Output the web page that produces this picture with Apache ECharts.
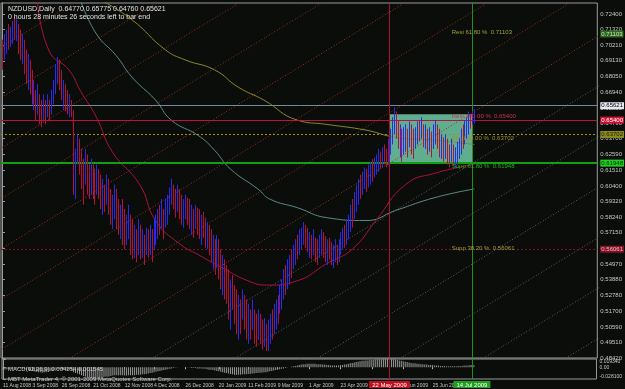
<!DOCTYPE html>
<html>
<head>
<meta charset="utf-8">
<script src="https://cdn.jsdelivr.net/npm/echarts@6/dist/echarts.min.js"></script>
<style>
  html, body { margin: 0; padding: 0; background: #0a0d0a; }
  #chart { width: 625px; height: 389px; }
</style>
</head>
<body>
<div id="chart"></div>
<script>
// NZDUSD daily, one row per bar: [open, high, low, close]
var bars = [
  [.700,.706,.685,.690],[.694,.710,.692,.706],[.705,.713,.696,.710],[.712,.717,.699,.702],[.703,.715,.701,.713],
  [.710,.719,.703,.717],[.718,.722,.706,.709],[.708,.720,.705,.716],[.714,.717,.696,.699],[.700,.713,.692,.695],
  [.693,.710,.689,.706],[.704,.706,.682,.686],[.688,.699,.675,.679],[.677,.696,.671,.690],[.689,.692,.668,.670],
  [.672,.685,.661,.664],[.662,.678,.657,.675],[.673,.671,.650,.653],[.655,.675,.654,.668],[.666,.668,.647,.650],
  [.652,.664,.645,.647],[.648,.668,.650,.662],[.661,.664,.647,.651],[.652,.668,.652,.665],[.663,.664,.649,.653],
  [.655,.671,.654,.668],[.667,.678,.661,.676],[.674,.689,.668,.686],[.684,.694,.675,.691],[.690,.692,.671,.675],
  [.677,.685,.664,.668],[.666,.678,.657,.675],[.673,.675,.656,.659],[.661,.671,.654,.656],[.655,.668,.652,.665],
  [.663,.664,.652,.654],[.655,.657,.598,.602],[.600,.630,.595,.624],[.622,.640,.619,.636],[.634,.637,.612,.615],
  [.617,.630,.602,.605],[.606,.623,.591,.594],[.608,.630,.605,.626],[.624,.626,.598,.600],[.603,.619,.595,.598],
  [.600,.623,.598,.619],[.617,.619,.595,.597],[.599,.616,.591,.593],[.600,.619,.598,.616],[.614,.616,.595,.598],
  [.600,.612,.588,.590],[.588,.609,.584,.605],[.603,.605,.586,.589],[.592,.612,.591,.609],[.607,.609,.584,.586],
  [.588,.602,.577,.580],[.578,.598,.574,.595],[.594,.605,.581,.602],[.600,.602,.574,.577],[.578,.595,.570,.572],
  [.571,.591,.567,.588],[.589,.595,.563,.566],[.568,.588,.560,.562],[.564,.584,.563,.581],[.580,.591,.567,.587],
  [.583,.584,.556,.559],[.561,.581,.553,.555],[.556,.577,.554,.574],[.572,.574,.551,.553],[.558,.581,.556,.578],
  [.576,.577,.553,.556],[.557,.574,.554,.571],[.569,.570,.549,.551],[.558,.575,.556,.573],[.572,.574,.554,.557],
  [.558,.577,.556,.575],[.573,.574,.551,.553],[.562,.581,.560,.579],[.575,.584,.563,.582],[.570,.588,.567,.586],
  [.587,.591,.570,.573],[.575,.595,.574,.592],[.587,.588,.567,.569],[.577,.595,.575,.593],[.585,.598,.577,.596],
  [.590,.603,.584,.601],[.598,.609,.591,.607],[.604,.605,.588,.590],[.592,.602,.582,.585],[.587,.605,.586,.603],
  [.601,.602,.581,.583],[.585,.598,.577,.580],[.578,.595,.575,.592],[.588,.598,.581,.596],[.595,.596,.577,.580],
  [.582,.595,.574,.577],[.575,.591,.570,.589],[.587,.588,.568,.570],[.576,.591,.574,.589],[.588,.589,.570,.572],
  [.574,.588,.567,.569],[.566,.584,.563,.581],[.583,.586,.568,.571],[.573,.582,.561,.564],[.562,.579,.560,.576],
  [.575,.577,.556,.558],[.560,.574,.551,.553],[.550,.570,.546,.566],[.565,.567,.542,.545],[.548,.570,.547,.567],
  [.566,.567,.539,.541],[.543,.560,.532,.535],[.534,.556,.528,.552],[.551,.553,.525,.528],[.530,.549,.522,.524],
  [.526,.546,.511,.514],[.512,.539,.504,.535],[.537,.542,.518,.520],[.522,.535,.508,.511],[.513,.532,.501,.504],
  [.503,.528,.497,.525],[.523,.525,.501,.505],[.512,.532,.511,.530],[.527,.528,.504,.507],[.509,.525,.497,.500],
  [.498,.522,.494,.518],[.517,.518,.497,.499],[.505,.525,.504,.522],[.516,.518,.494,.497],[.499,.515,.492,.494],
  [.499,.518,.497,.515],[.513,.515,.494,.497],[.499,.511,.490,.492],[.494,.512,.492,.509],[.507,.508,.489,.491],
  [.492,.511,.489,.508],[.505,.515,.494,.512],[.513,.518,.497,.500],[.502,.522,.501,.519],[.515,.525,.504,.523],
  [.524,.528,.508,.511],[.517,.535,.515,.533],[.530,.539,.518,.537],[.528,.546,.525,.544],[.545,.549,.528,.531],
  [.533,.553,.532,.551],[.545,.556,.535,.554],[.555,.560,.540,.543],[.547,.563,.546,.561],[.555,.567,.549,.565],
  [.566,.570,.553,.555],[.558,.574,.556,.572],[.565,.575,.560,.573],[.567,.579,.563,.577],[.576,.577,.561,.563],
  [.566,.575,.558,.560],[.559,.572,.554,.570],[.569,.570,.553,.555],[.557,.574,.556,.572],[.567,.568,.551,.553],
  [.555,.567,.549,.551],[.556,.570,.554,.568],[.562,.574,.556,.572],[.571,.572,.554,.557],[.558,.569,.551,.553],
  [.552,.567,.549,.564],[.565,.568,.553,.556],[.557,.565,.549,.551],[.550,.563,.547,.561],[.556,.567,.551,.565],
  [.562,.563,.549,.551],[.552,.567,.551,.564],[.560,.572,.556,.570],[.565,.575,.560,.573],[.575,.577,.561,.563],
  [.565,.581,.563,.579],[.572,.584,.567,.582],[.578,.591,.572,.589],[.592,.595,.575,.578],[.583,.600,.581,.598],
  [.594,.605,.586,.603],[.596,.609,.591,.607],[.609,.612,.595,.598],[.599,.614,.598,.612],[.606,.617,.602,.615],
  [.615,.616,.600,.603],[.604,.619,.603,.617],[.610,.621,.605,.619],[.620,.623,.607,.609],[.611,.624,.610,.622],
  [.616,.626,.612,.624],[.619,.630,.614,.627],[.627,.628,.616,.618],[.619,.631,.617,.629],[.631,.633,.619,.621],
  [.622,.630,.617,.619],[.620,.637,.619,.634],[.632,.644,.626,.641],[.636,.652,.633,.649],[.647,.659,.640,.656],
  [.655,.656,.637,.640],[.642,.650,.630,.633],[.627,.647,.624,.643],[.642,.644,.621,.624],[.628,.645,.626,.641],
  [.635,.647,.628,.645],[.643,.644,.624,.627],[.632,.649,.631,.646],[.645,.647,.626,.629],[.632,.644,.623,.625],
  [.631,.645,.630,.642],[.638,.649,.633,.646],[.648,.650,.635,.637],[.638,.652,.637,.650],[.646,.647,.631,.633],
  [.632,.647,.630,.644],[.642,.644,.626,.628],[.629,.645,.628,.643],[.641,.642,.624,.626],[.631,.647,.630,.645],
  [.640,.650,.633,.648],[.646,.647,.630,.632],[.633,.644,.624,.627],[.625,.640,.623,.637],[.636,.638,.621,.623],
  [.624,.640,.623,.638],[.635,.637,.619,.621],[.624,.633,.617,.619],[.622,.637,.621,.634],[.632,.633,.618,.620],
  [.619,.631,.617,.628],[.625,.635,.619,.633],[.627,.638,.623,.636],[.630,.644,.626,.642],[.644,.647,.630,.633],
  [.634,.650,.633,.648],[.642,.652,.637,.650],[.645,.656,.640,.654],[.652,.654,.644,.646],[.648,.656,.647,.655],
  [.6477,.65775,.6476,.65621]
];

// MACD(12,26,9) main line, one value per bar
var macd = [
  -.006,-.006,-.005,-.005,-.004,-.004,-.003,-.003,-.003,-.003,
  -.004,-.005,-.006,-.007,-.008,-.009,-.010,-.011,-.012,-.012,
  -.013,-.012,-.012,-.011,-.010,-.009,-.008,-.006,-.005,-.005,
  -.005,-.005,-.006,-.006,-.006,-.007,-.012,-.014,-.015,-.017,
  -.019,-.021,-.022,-.024,-.025,-.026,-.027,-.028,-.027,-.026,
  -.025,-.024,-.023,-.022,-.022,-.021,-.020,-.019,-.019,-.019,
  -.019,-.019,-.020,-.020,-.019,-.019,-.019,-.019,-.018,-.018,
  -.018,-.017,-.017,-.016,-.015,-.014,-.013,-.012,-.011,-.010,
  -.009,-.008,-.007,-.006,-.005,-.004,-.003,-.002,-.001,-.001,
  0,0,0,-.001,-.001,-.001,-.002,-.002,-.002,-.003,
  -.003,-.003,-.004,-.004,-.005,-.006,-.006,-.007,-.008,-.009,
  -.010,-.011,-.012,-.013,-.014,-.015,-.016,-.017,-.018,-.018,
  -.018,-.018,-.017,-.017,-.017,-.016,-.016,-.015,-.015,-.014,
  -.014,-.013,-.013,-.012,-.012,-.011,-.010,-.009,-.008,-.007,
  -.006,-.005,-.004,-.003,-.002,-.001,0,.001,.002,.003,
  .004,.005,.006,.007,.007,.008,.008,.008,.008,.008,
  .007,.007,.007,.006,.006,.005,.005,.004,.004,.004,
  .004,.004,.005,.005,.006,.007,.008,.009,.010,.011,
  .012,.013,.014,.015,.015,.016,.016,.017,.017,.017,
  .018,.018,.018,.018,.019,.019,.019,.019,.019,.019,
  .018,.017,.016,.015,.014,.013,.012,.011,.010,.009,
  .009,.008,.008,.007,.007,.006,.006,.005,.005,.005,
  .004,.004,.004,.003,.003,.003,.002,.002,.002,.002,
  .002,.002,.003,.003,.003,.004,.004,.004,.005,.005,
  .004254
];

// moving averages, sampled points [bar, price]
var maRed = [[18,.7330],[24,.6980],[34,.6850],[40,.6700],[48,.6520],[56,.6280],[70,.6050],[78,.5800],[90,.5640],[100,.5560],[112,.5470],[125,.5380],[135,.5350],[150,.5380],[165,.5500],[178,.5600],[190,.5800],[205,.6050],[220,.6130],[240,.6190]];
var maTeal = [[40,.7330],[48,.7100],[58,.6950],[66,.6800],[78,.6640],[86,.6500],[100,.6390],[108,.6290],[116,.6160],[130,.6020],[136,.5950],[150,.5890],[165,.5820],[185,.5800],[200,.5870],[220,.5960],[240,.6020]];
var maOlive = [[51,.7330],[66,.7200],[83,.6990],[93,.6920],[108,.6850],[120,.6730],[133,.6640],[150,.6500],[165,.6470],[185,.6430],[200,.6380],[220,.6360],[240,.6330]];

// parallel trend lines [startBar, startPrice, endBar, endPrice]
var redRays = [[-261,.4828,39,.7337],[-219,.4828,81,.7337],[-177,.4828,123,.7337],[-135,.4828,165,.7337],[-93,.4828,207,.7337],[-51,.4828,249,.7337],[-9,.4828,291,.7337],[33,.4828,333,.7337]];
var greyRays = [[75,.4828,375,.7337],[117,.4828,417,.7337],[159,.4828,459,.7337],[201,.4828,501,.7337],[243,.4828,543,.7337],[285,.4828,585,.7337]];

// price levels
var bidPrice = 0.65621;
var boxHigh = 0.65400, boxMid = 0.63702, boxLow = 0.61948, fibUp = 0.71103, fibDown = 0.56061;
var boxStart = 197, boxEnd = 239;

var yTicks = [0.48420,0.49510,0.50590,0.51700,0.52780,0.53880,0.54970,0.56060,0.57150,0.58240,0.59320,0.60400,0.61510,0.62590,0.63700,0.64790,0.65850,0.66940,0.68050,0.69130,0.70210,0.71320,0.72400];
var macdTicks = [0.01934, 0, -0.0281];
var macdTickLabels = ['0.019340', '0.00', '-0.028100'];
var dateBars = [0, 15, 30, 46, 62, 77, 93, 110, 125, 140, 156, 172, 188, 204, 219];
var dateLabels = ['11 Aug 2008','3 Sep 2008','26 Sep 2008','21 Oct 2008','12 Nov 2008','4 Dec 2008','26 Dec 2008','20 Jan 2009','11 Feb 2009','9 Mar 2009','1 Apr 2009','23 Apr 2009','15 May 2009','8 Jun 2009','25 Jun 2009'];
var vLineLabels = ['22 May 2009', '14 Jul 2009'];
var fibTexts = ['Resi 61.80 %  0.71103', 'Resi 100.00 %  0.65400', 'Pivot 50.00 %  0.63702', 'Supp 61.80 %  0.61948', 'Supp 38.20 %  0.56061'];
var titleText = 'NZDUSD,Daily  0.64770 0.65775 0.64760 0.65621';
var timerText = '0 hours 28 minutes 26 seconds left to bar end';
var macdText = 'MACD(12,26,9) 0.004254 0.001545';
var copyText = 'MBT MetaTrader 4, \u00a9 2001-2009 MetaQuotes Software Corp.';

var barData = bars.map(function (b, i) { return [i, b[0], b[1], b[2], b[3]]; });
var macdData = macd.map(function (v, i) { return [i, v]; });

var upColor = '#2a2ae8', downColor = '#b8103c';
var font = 'Liberation Sans';

function renderBar(params, api) {
  var i = api.value(0);
  var h = api.coord([i, api.value(2)]);
  var l = api.coord([i, api.value(3)]);
  var up = api.value(4) >= api.value(1);
  var x = Math.round(h[0]) + 0.5;
  return {
    type: 'line',
    shape: { x1: x, y1: h[1], x2: x, y2: l[1] },
    style: { stroke: up ? upColor : downColor, lineWidth: 1 }
  };
}

function rayLine(r, color) {
  return {
    type: 'line', xAxisIndex: 0, yAxisIndex: 0, silent: true, symbol: 'none', z: 1,
    data: [[r[0], r[1]], [r[2], r[3]]],
    lineStyle: { color: color, width: 1, type: [1, 2] }
  };
}

// horizontal level with a coloured price tag on the right axis
function level(v, color, w, type, tagBg, tagColor) {
  return {
    yAxis: v,
    lineStyle: { color: color, width: w, type: type },
    label: {
      show: true, position: 'end', distance: 3, formatter: v.toFixed(5),
      backgroundColor: tagBg, color: tagColor, fontSize: 6, fontFamily: font, padding: [1, 1, 0, 1]
    }
  };
}

var chart = echarts.init(document.getElementById('chart'));

var series = [];
redRays.forEach(function (r) { series.push(rayLine(r, '#9a3418')); });
greyRays.forEach(function (r) { series.push(rayLine(r, '#5c605c')); });

series.push({
  type: 'line', name: 'MA olive', data: maOlive, smooth: true, symbol: 'none', z: 2,
  lineStyle: { color: '#8a8a2a', width: 1 },
  markArea: {
    silent: true,
    itemStyle: { color: '#60ae90', opacity: 1 },
    data: [[{ xAxis: boxStart, yAxis: boxHigh }, { xAxis: boxEnd, yAxis: boxLow }]]
  },
  markLine: {
    silent: true, symbol: 'none',
    data: [
      level(fibUp, 'rgba(0,0,0,0)', 1, 'solid', '#2a6a1a', '#d0e0c0'),
      level(bidPrice, '#778899', 1, 'solid', '#e8e8f0', '#000000'),
      level(boxHigh, '#c01040', 1, 'solid', '#d01030', '#ffffff'),
      level(boxMid, '#a09020', 1, [2, 2], '#8a8a20', '#202000'),
      level(boxLow, '#10a010', 2, 'solid', '#20d020', '#002000'),
      level(fibDown, '#7a1020', 1, [2, 2], '#8a1028', '#e0c0c0'),
      { xAxis: boxStart, lineStyle: { color: '#b01030', width: 1, type: 'solid' }, label: { show: false } },
      { xAxis: boxEnd, lineStyle: { color: '#209020', width: 1, type: 'solid' }, label: { show: false } }
    ]
  }
});
series.push({ type: 'line', name: 'MA teal', data: maTeal, smooth: true, symbol: 'none', z: 2, lineStyle: { color: '#5a8a8a', width: 1 } });
series.push({ type: 'line', name: 'MA red', data: maRed, smooth: true, symbol: 'none', z: 2, lineStyle: { color: '#b0103a', width: 1 } });

series.push({
  type: 'custom', name: 'NZDUSD', data: barData, renderItem: renderBar, z: 5,
  encode: { x: 0, y: [1, 2, 3, 4] }, clip: true
});

// fibonacci level captions, drawn above the bars
series.push({
  type: 'line', name: 'fib text', data: [[boxStart, boxHigh]], symbol: 'none', showSymbol: false, z: 10,
  lineStyle: { opacity: 0 },
  markPoint: {
    silent: true, symbol: 'circle', symbolSize: 0,
    label: { show: true, fontFamily: font, fontSize: 6, position: 'right', formatter: '{c}' },
    data: [
      { coord: [226, fibUp], value: fibTexts[0], label: { color: '#a0a040' } },
      { coord: [226, boxHigh - 0.0016], value: fibTexts[1], label: { color: '#d03050' } },
      { coord: [226, boxMid], value: fibTexts[2], label: { color: '#a09030' } },
      { coord: [226, boxLow - 0.0016], value: fibTexts[3], label: { color: '#20b020' } },
      { coord: [226, fibDown], value: fibTexts[4], label: { color: '#a0a040' } }
    ]
  }
});

series.push({
  type: 'bar', name: 'MACD', xAxisIndex: 1, yAxisIndex: 1, data: macdData, barWidth: 1,
  itemStyle: { color: '#9a9a9a' }, silent: true, z: 3,
  markLine: {
    silent: true, symbol: 'none',
    label: { show: true, position: 'start', distance: 2, fontSize: 6, fontFamily: font, padding: [1, 3, 0, 3] },
    data: [
      { xAxis: boxStart, lineStyle: { color: '#b01030', width: 1, type: 'solid' }, label: { formatter: vLineLabels[0], backgroundColor: '#c01020', color: '#ffffff' } },
      { xAxis: boxEnd, lineStyle: { color: '#209020', width: 1, type: 'solid' }, label: { formatter: vLineLabels[1], backgroundColor: '#20a020', color: '#ffffff' } }
    ]
  }
});

var xRange = { min: -0.5, max: 302.5 };

chart.setOption({
  backgroundColor: '#0a0d0a',
  animation: false,
  title: [
    { text: titleText, left: 3, top: 1, textStyle: { color: '#e0e0e0', fontSize: 7, fontWeight: 'normal', fontFamily: font } },
    { text: timerText, left: 3, top: 9, textStyle: { color: '#e0e0e0', fontSize: 7, fontWeight: 'normal', fontFamily: font } },
    { text: macdText, left: 3, top: 361, textStyle: { color: '#c8c8c8', fontSize: 6, fontWeight: 'normal', fontFamily: font } },
    { text: copyText, left: 3, top: 371, textStyle: { color: '#c8c8c8', fontSize: 6, fontWeight: 'normal', fontFamily: font } }
  ],
  grid: [
    { left: 1, right: 19, top: 3, height: 355, show: true, borderColor: '#9a9a9a', borderWidth: 1, backgroundColor: 'transparent' },
    { left: 1, right: 19, top: 359, height: 20, show: true, borderColor: '#9a9a9a', borderWidth: 1, backgroundColor: 'transparent' }
  ],
  xAxis: [
    { type: 'value', gridIndex: 0, min: xRange.min, max: xRange.max, axisLine: { show: false }, axisTick: { show: false }, axisLabel: { show: false }, splitLine: { show: false } },
    {
      type: 'value', gridIndex: 1, min: xRange.min, max: xRange.max, axisLine: { show: false },
      axisTick: { show: true, length: 2, lineStyle: { color: '#bbbbbb' }, customValues: dateBars },
      axisLabel: {
        show: true, customValues: dateBars, showMinLabel: true, showMaxLabel: true, hideOverlap: false,
        color: '#c8c8c8', fontSize: 5, fontFamily: font, align: 'left', margin: 4,
        formatter: function (v) { var k = dateBars.indexOf(Math.round(v)); return k >= 0 ? dateLabels[k] : ''; }
      },
      splitLine: { show: false }
    }
  ],
  yAxis: [
    {
      type: 'value', gridIndex: 0, position: 'right', min: 0.4842, max: 0.7316, scale: true,
      axisLine: { show: true, lineStyle: { color: '#9a9a9a' } },
      axisTick: { show: true, length: 3, inside: false, lineStyle: { color: '#9a9a9a' }, customValues: yTicks },
      axisLabel: { show: true, color: '#c8c8c8', fontSize: 6, fontFamily: font, margin: 3, customValues: yTicks, formatter: function (v) { return v.toFixed(5); } },
      splitLine: { show: false }
    },
    {
      type: 'value', gridIndex: 1, position: 'right', min: -0.0281, max: 0.01934,
      axisLine: { show: true, lineStyle: { color: '#9a9a9a' } },
      axisTick: { show: true, length: 3, lineStyle: { color: '#9a9a9a' }, customValues: macdTicks },
      axisLabel: {
        show: true, showMaxLabel: true, showMinLabel: true, color: '#c8c8c8', fontSize: 5, fontFamily: font, margin: 3, customValues: macdTicks,
        formatter: function (v) {
          var k = v > 0 ? 0 : (v < 0 ? 2 : 1);
          return k === 0 ? '{t|' + macdTickLabels[0] + '}' : (k === 2 ? '{b|' + macdTickLabels[2] + '}' : macdTickLabels[1]);
        },
        rich: {
          t: { fontSize: 5, color: '#c8c8c8', fontFamily: font, padding: [6, 0, 0, 0] },
          b: { fontSize: 5, color: '#c8c8c8', fontFamily: font, padding: [0, 0, 5, 0] }
        }
      },
      splitLine: { show: false }
    }
  ],
  series: series
});
</script>
</body>
</html>
